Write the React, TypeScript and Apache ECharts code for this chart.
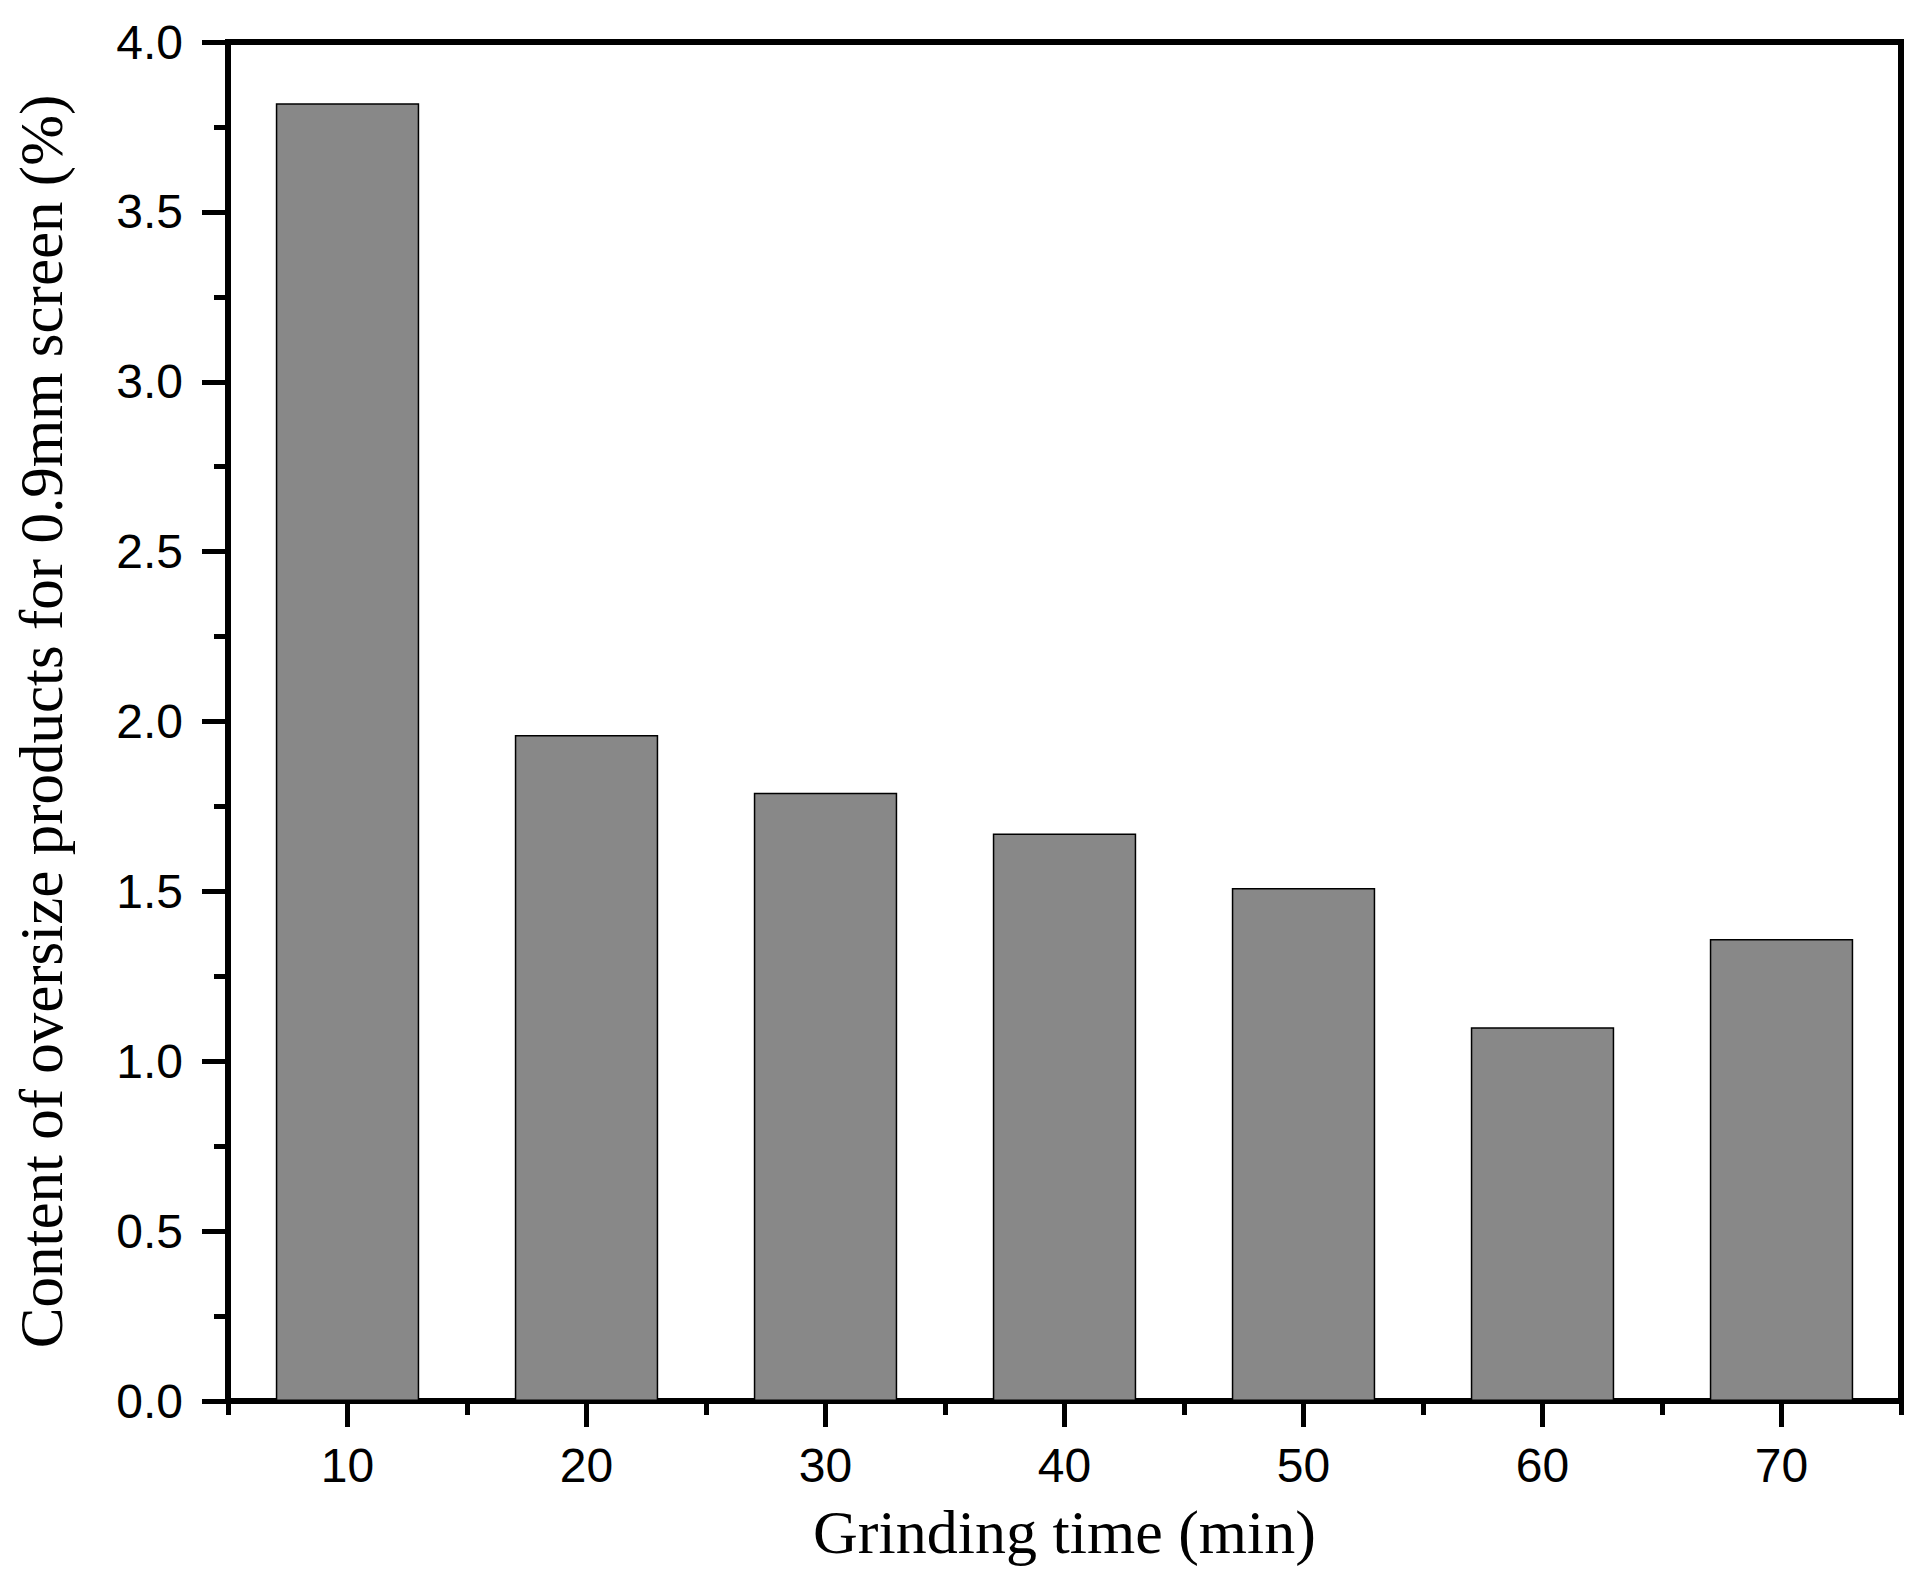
import React, { useEffect, useRef } from "react";
import * as echarts from "echarts";

const categories = ["10", "20", "30", "40", "50", "60", "70"];
const oversizeContent = [3.82, 1.96, 1.79, 1.67, 1.51, 1.1, 1.36];
const yTicks = { min: 0, max: 4, interval: 0.5 };
const xTitle = "Grinding time (min)";
const yTitle = "Content of oversize products for 0.9mm screen (%)";

export default function App() {
  const ref = useRef<HTMLDivElement>(null);
  useEffect(() => {
    if (!ref.current) return;
    const chart = echarts.init(ref.current, null, { renderer: "svg" });
    const serif = "'Liberation Serif', 'Times New Roman', serif";
    const sans = "'Liberation Sans', Arial, sans-serif";
    chart.setOption({
      animation: false,
      backgroundColor: "#ffffff",
      grid: {
        left: 228,
        right: 12,
        top: 42,
        bottom: 178,
        show: true,
        borderColor: "#000",
        borderWidth: 6,
        backgroundColor: "transparent",
      },
      xAxis: [
        {
          type: "category",
          data: categories,
          position: "bottom",
          name: xTitle,
          nameLocation: "middle",
          nameGap: 100,
          nameTextStyle: { fontFamily: serif, fontSize: 62, color: "#000" },
          axisLine: { show: true, lineStyle: { color: "#000", width: 6 } },
          axisTick: {
            show: true,
            alignWithLabel: true,
            interval: 0,
            length: 26,
            lineStyle: { color: "#000", width: 5 },
          },
          axisLabel: {
            interval: 0,
            margin: 40,
            fontFamily: sans,
            fontSize: 48,
            color: "#000",
          },
          splitLine: { show: false },
        },
        {
          type: "category",
          data: categories,
          position: "bottom",
          axisLine: { show: false },
          axisTick: {
            show: true,
            alignWithLabel: false,
            interval: 0,
            length: 14,
            lineStyle: { color: "#000", width: 5 },
          },
          axisLabel: { show: false },
          splitLine: { show: false },
        },
      ],
      yAxis: {
        type: "value",
        min: yTicks.min,
        max: yTicks.max,
        interval: yTicks.interval,
        name: yTitle,
        nameLocation: "middle",
        nameGap: 156,
        nameTextStyle: { fontFamily: serif, fontSize: 61, color: "#000" },
        axisLine: { show: true, lineStyle: { color: "#000", width: 6 } },
        axisTick: { show: true, length: 26, lineStyle: { color: "#000", width: 5 } },
        minorTick: { show: true, splitNumber: 2, length: 14, lineStyle: { color: "#000", width: 5 } },
        axisLabel: {
          margin: 45,
          fontFamily: sans,
          fontSize: 48,
          color: "#000",
          formatter: (v: number) => v.toFixed(1),
        },
        splitLine: { show: false },
        minorSplitLine: { show: false },
      },
      series: [
        {
          type: "bar",
          xAxisIndex: 0,
          data: oversizeContent,
          barWidth: "60%",
          itemStyle: { color: "#888888", borderColor: "#000", borderWidth: 1.5 },
        },
      ],
    });
    return () => chart.dispose();
  }, []);
  return (
    <div
      ref={ref}
      style={{ position: "absolute", left: 0, top: 0, width: 1913, height: 1579, background: "#fff" }}
    />
  );
}
